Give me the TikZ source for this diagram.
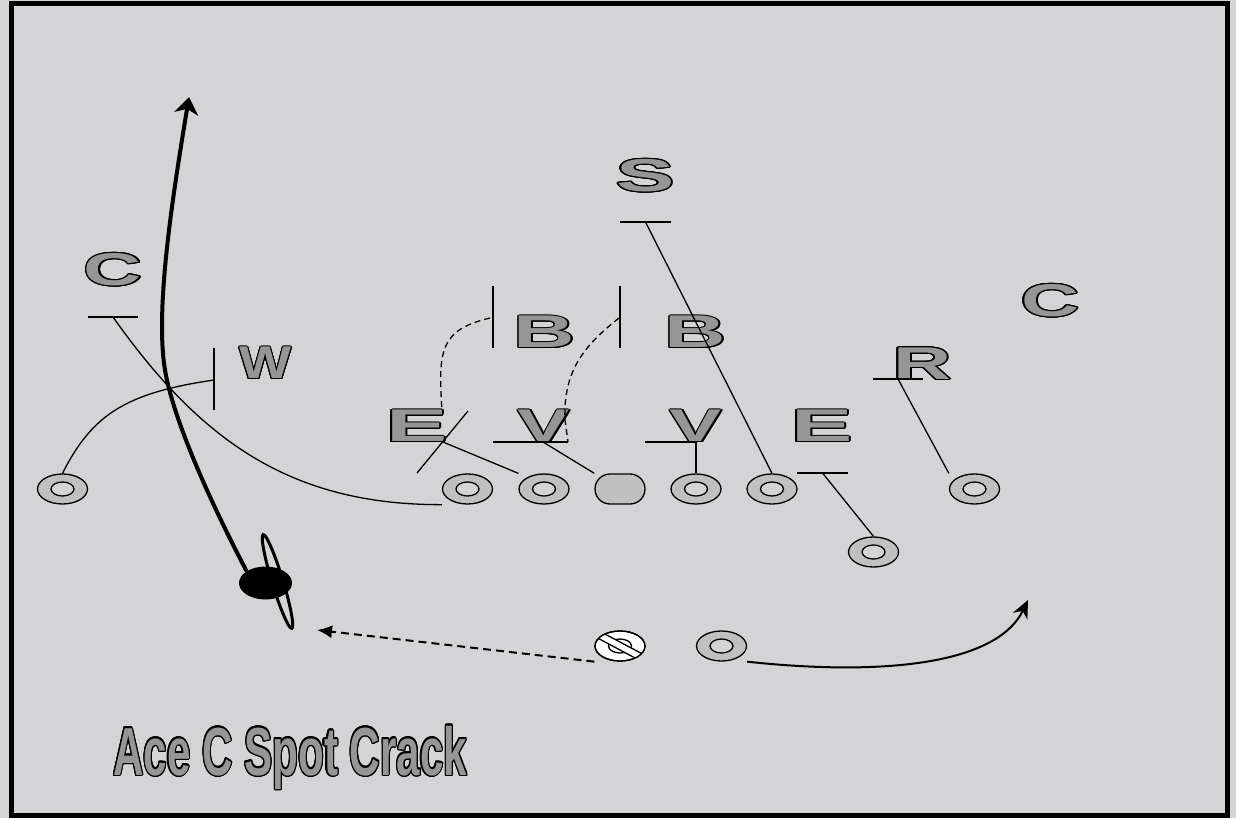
\documentclass[tikz,border=0pt]{standalone}
\usepackage{fontspec}
\setmainfont{Liberation Sans}
\usepackage{graphicx}
\usepackage{contour}
\usetikzlibrary{shapes.geometric,arrows.meta,calc}
\definecolor{bg}{RGB}{212,212,214}
\definecolor{ringfill}{RGB}{192,192,192}
\definecolor{lettergray}{RGB}{150,150,150}
\contourlength{0.9pt}
\newcommand\plab[2]{\scalebox{#1}[1]{\textcolor{lettergray}{\contour{black}{#2}}}}
\begin{document}
\begin{tikzpicture}[x=1pt,y=-1pt,
  lbl/.style={inner sep=0pt, font=\fontsize{46}{46}\selectfont\bfseries},
  ringp/.style={ellipse, draw, fill=ringfill, line width=1.3pt, minimum width=50pt, minimum height=30pt, inner sep=0pt,
    path picture={\draw[line width=1.3pt, fill=bg] (path picture bounding box.center) ellipse [x radius=11.5pt, y radius=7pt];}},
  ctr/.style={rectangle, rounded corners=15pt, draw, fill=ringfill, line width=1.3pt, minimum width=50pt, minimum height=30pt, inner sep=0pt},
  qbsym/.style={ellipse, draw, fill=white, line width=1.3pt, minimum width=50pt, minimum height=30pt, inner sep=0pt,
    path picture={\draw[line width=1.3pt] (path picture bounding box.center) ellipse [x radius=11.5pt, y radius=7pt];}},
  ballsym/.style={ellipse, fill=black, minimum width=53pt, minimum height=33pt, inner sep=0pt},
  thin/.style={line width=1.3pt},
  dsh/.style={line width=1.3pt, dash pattern=on 6pt off 4pt}
]
\fill[bg] (0,0) rectangle (1236,818);
\useasboundingbox (0,0) rectangle (1236,818);
\draw[line width=5pt] (11.5,3.5) rectangle (1227.5,815.5);

% defenders
\node[lbl] (S) at (645.5,176) {\plab{1.9}{S}};
\node[lbl] (CL) at (113,270) {\plab{1.75}{C}};
\node[lbl] (W) at (265.5,363.5) {\plab{1.2}{W}};
\node[lbl] (EL) at (417,426.5) {\plab{2.0}{E}};
\node[lbl] (VL) at (544,426.5) {\plab{1.7}{V}};
\node[lbl] (BL) at (544.5,332.5) {\plab{1.85}{B}};
\node[lbl] (BR) at (695.5,332.5) {\plab{1.85}{B}};
\node[lbl] (VR) at (696,426.5) {\plab{1.7}{V}};
\node[lbl] (ER) at (822,426.5) {\plab{2.0}{E}};
\node[lbl] (R) at (922.5,364) {\plab{1.75}{R}};
\node[lbl] (CR) at (1050.5,301) {\plab{1.75}{C}};

% offense
\node[ringp] (wrL) at (62.5,489) {};
\node[ringp] (lt) at (467.5,489) {};
\node[ringp] (lg) at (544,489) {};
\node[ctr] (c) at (620,489) {};
\node[ringp] (rg) at (696,489) {};
\node[ringp] (rt) at (772,489) {};
\node[ringp] (te) at (873.5,552) {};
\node[ringp] (wrR) at (974.5,489) {};
\node[ringp] (rb) at (721.5,646) {};
\node[qbsym] (qb) at (620,646) {};
\begin{scope}
  \clip (qb.center) ellipse [x radius=25pt, y radius=15pt];
  \begin{scope}[shift={(qb.center)}, rotate=-28]
    \draw[line width=1.3pt, fill=white] (-32,-3.5) -- (32,-3.5) -- (32,3.5) -- (-32,3.5) -- cycle;
  \end{scope}
\end{scope}
\draw[line width=1.3pt] (qb.center) ellipse [x radius=25pt, y radius=15pt];

% bars and assignments
\coordinate (cLb) at (113,317);
\draw[thin] ($(cLb)+(-25,0)$) -- ($(cLb)+(25,0)$);
\draw[thin] (cLb) .. controls (200,440) and (290,505) .. (lt.south -| lt.west);

\coordinate (wb) at (214,380);
\draw[thin] ($(wb)+(0,-32)$) -- ($(wb)+(0,30)$);
\draw[thin] (wrL.north) .. controls (92,415) and (125,393) .. (wb);

\coordinate (eLb) at (443,442);
\draw[thin] ($(eLb)+(-26,31)$) -- ($(eLb)+(25,-31)$);
\draw[thin] (lg.north -| lg.west) -- (eLb);

\coordinate (vLb) at (543,442);
\coordinate (vLe) at (568,442);
\draw[thin] (493,442) -- (vLe);
\draw[thin] (vLb) -- (c.north west);

\coordinate (bLb) at (493,317);
\coordinate (bRb) at (620,317);
\draw[thin] ($(bLb)+(0,-31)$) -- ($(bLb)+(0,31)$);
\draw[thin] ($(bRb)+(0,-31)$) -- ($(bRb)+(0,31)$);
\draw[dsh] ($(bLb)+(-3,1)$) .. controls (440,330) and (438,350) .. (442,411);
\draw[dsh] ($(bRb)+(-1,1)$) .. controls (585,345) and (563,370) .. (565,420) -- (vLe);

\coordinate (vRb) at (696,442);
\draw[thin] (645,442) -- (vRb);
\draw[thin] (vRb) -- (rg.north);

\coordinate (sb) at (645.5,222);
\draw[thin] (620,222) -- (671,222);
\draw[thin] (sb) -- (rt.north);

\coordinate (eRb) at (822.5,473);
\draw[thin] (797,473) -- (848,473);
\draw[thin] (eRb) -- (te.north);

\coordinate (rBar) at (898,379);
\draw[thin] (873,379) -- (923,379);
\draw[thin] (rBar) -- (wrR.north -| wrR.west);

% QB pitch
\coordinate (qbt) at (317,630);
\draw[line width=2pt, dash pattern=on 8pt off 5pt, -{Latex[length=15pt,width=13pt]}] (qb.south -| qb.west) -- (qbt);

% RB route
\coordinate (rbt) at (1028,600);
\draw[line width=2pt, -{Stealth[length=18pt,width=16pt]}] (rb.south -| rb.east) .. controls (870,675) and (995,668) .. (rbt);

% motion man
\node[ballsym] (ball) at (265.5,583) {};
\coordinate (lp) at (277.5,581.5);
\draw[line width=3pt, rotate around={17:(lp)}] (lp) ellipse [x radius=5.5pt, y radius=49pt];
\coordinate (wrt) at (189,97);
\draw[line width=4pt, -{Stealth[length=17pt,width=24pt,inset=5pt]}] (ball.north west) .. controls (225,530) and (175,430) .. (165,370) .. controls (155,310) and (172,200) .. (wrt);

% title
\node[anchor=base west, inner sep=0pt, font=\fontsize{68}{68}\selectfont\bfseries] (title) at (113,775)
  {\contourlength{1.8pt}\scalebox{0.62}[1]{\textcolor{lettergray}{\contour{black}{Ace C Spot Crack}}}};
\end{tikzpicture}
\end{document}
